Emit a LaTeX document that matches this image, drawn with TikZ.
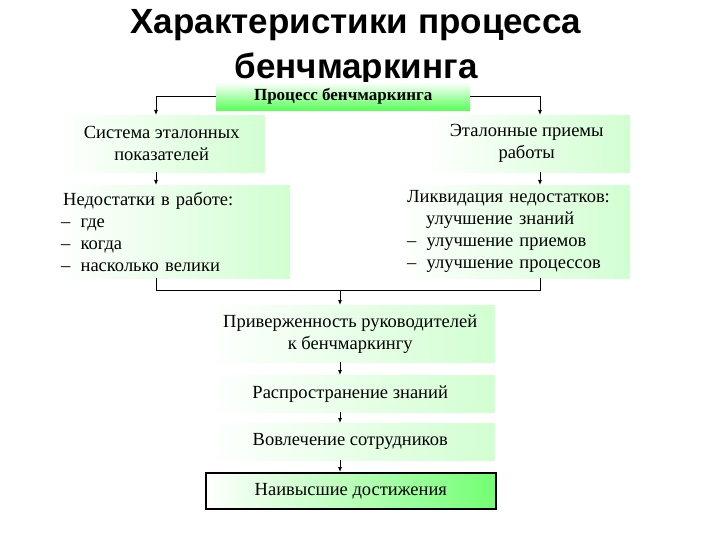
\documentclass[tikz,border=0pt]{standalone}
\usepackage{fontspec}
\setmainfont{Liberation Serif}
\newfontfamily\titlefont{Liberation Sans}
\usetikzlibrary{arrows.meta}
\begin{document}
\begin{tikzpicture}[x=1pt,y=-1pt,
  gbox/.style={shading=axis,left color=white,right color=green!18!white,draw=none,inner sep=0pt,align=center,font=\fontsize{18.5}{22}\selectfont},
  arr/.style={-{Latex[length=5pt,width=4pt]},line width=0.8pt},
  ln/.style={line width=0.8pt}]
\useasboundingbox (0,0) rectangle (720,540);
\node[font=\titlefont\bfseries\fontsize{35}{45}\selectfont,align=center] (title) at (356,48) {Характеристики процесса\\бенчмаркинга};
\node[gbox,shading angle=0,top color=white,bottom color=green!65!white,minimum width=254pt,minimum height=28pt,anchor=north west,font=\bfseries\fontsize{17}{20}\selectfont] (top) at (216,82) {Процесс бенчмаркинга};
\node[gbox,minimum width=207pt,minimum height=57pt,anchor=north west] (l1) at (58,115) {Система эталонных\\показателей};
\node[gbox,minimum width=207pt,minimum height=57pt,anchor=north west] (r1) at (423,115) {Эталонные приемы\\работы};
\node[gbox,minimum width=232pt,minimum height=93pt,anchor=north west,align=left,text width=226pt] (l2) at (58,185) {\hspace*{2pt}Недостатки в работе:\\– \hspace*{4pt}где\\– \hspace*{4pt}когда\\– \hspace*{4pt}насколько велики};
\node[gbox,minimum width=232pt,minimum height=93pt,anchor=north west,align=left,text width=226pt,inner xsep=3pt] (r2) at (398,185) {\hspace*{6pt}Ликвидация недостатков:\\\hspace*{25pt}улучшение знаний\\\hspace*{6pt}– \hspace*{4pt}улучшение приемов\\\hspace*{6pt}– \hspace*{4pt}улучшение процессов};
\node[gbox,minimum width=290pt,minimum height=57pt,anchor=north west] (c1) at (205,305) {Приверженность руководителей\\к бенчмаркингу};
\node[gbox,minimum width=290pt,minimum height=37pt,anchor=north west] (c2) at (205,375) {Распространение знаний};
\node[gbox,minimum width=290pt,minimum height=37pt,anchor=north west] (c3) at (205,423) {Вовлечение сотрудников};
\node[gbox,shading angle=0,left color=white,right color=green!55!white,draw=black,line width=1.6pt,minimum width=290pt,minimum height=36pt,anchor=north west] (c4) at (205,472) {Наивысшие достижения};
\coordinate (jl) at (156,290);
\coordinate (jr) at (540,290);
\coordinate (jc) at (340,290);
\draw[arr] (top.west) -| (l1.north -| jl);
\draw[arr] (top.east) -| (r1.north -| jr);
\draw[arr] (l1.south -| jl) -- (l2.north -| jl);
\draw[arr] (r1.south -| jr) -- (r2.north -| jr);
\draw[ln] (l2.south -| jl) -- (jl) -- (jr) -- (r2.south -| jr);
\draw[arr] (jc) -- (c1.north -| jc);
\draw[arr] (c1.south -| jc) -- (c2.north -| jc);
\draw[arr] (c2.south -| jc) -- (c3.north -| jc);
\draw[arr] (c3.south -| jc) -- (c4.north -| jc);
\end{tikzpicture}
\end{document}
